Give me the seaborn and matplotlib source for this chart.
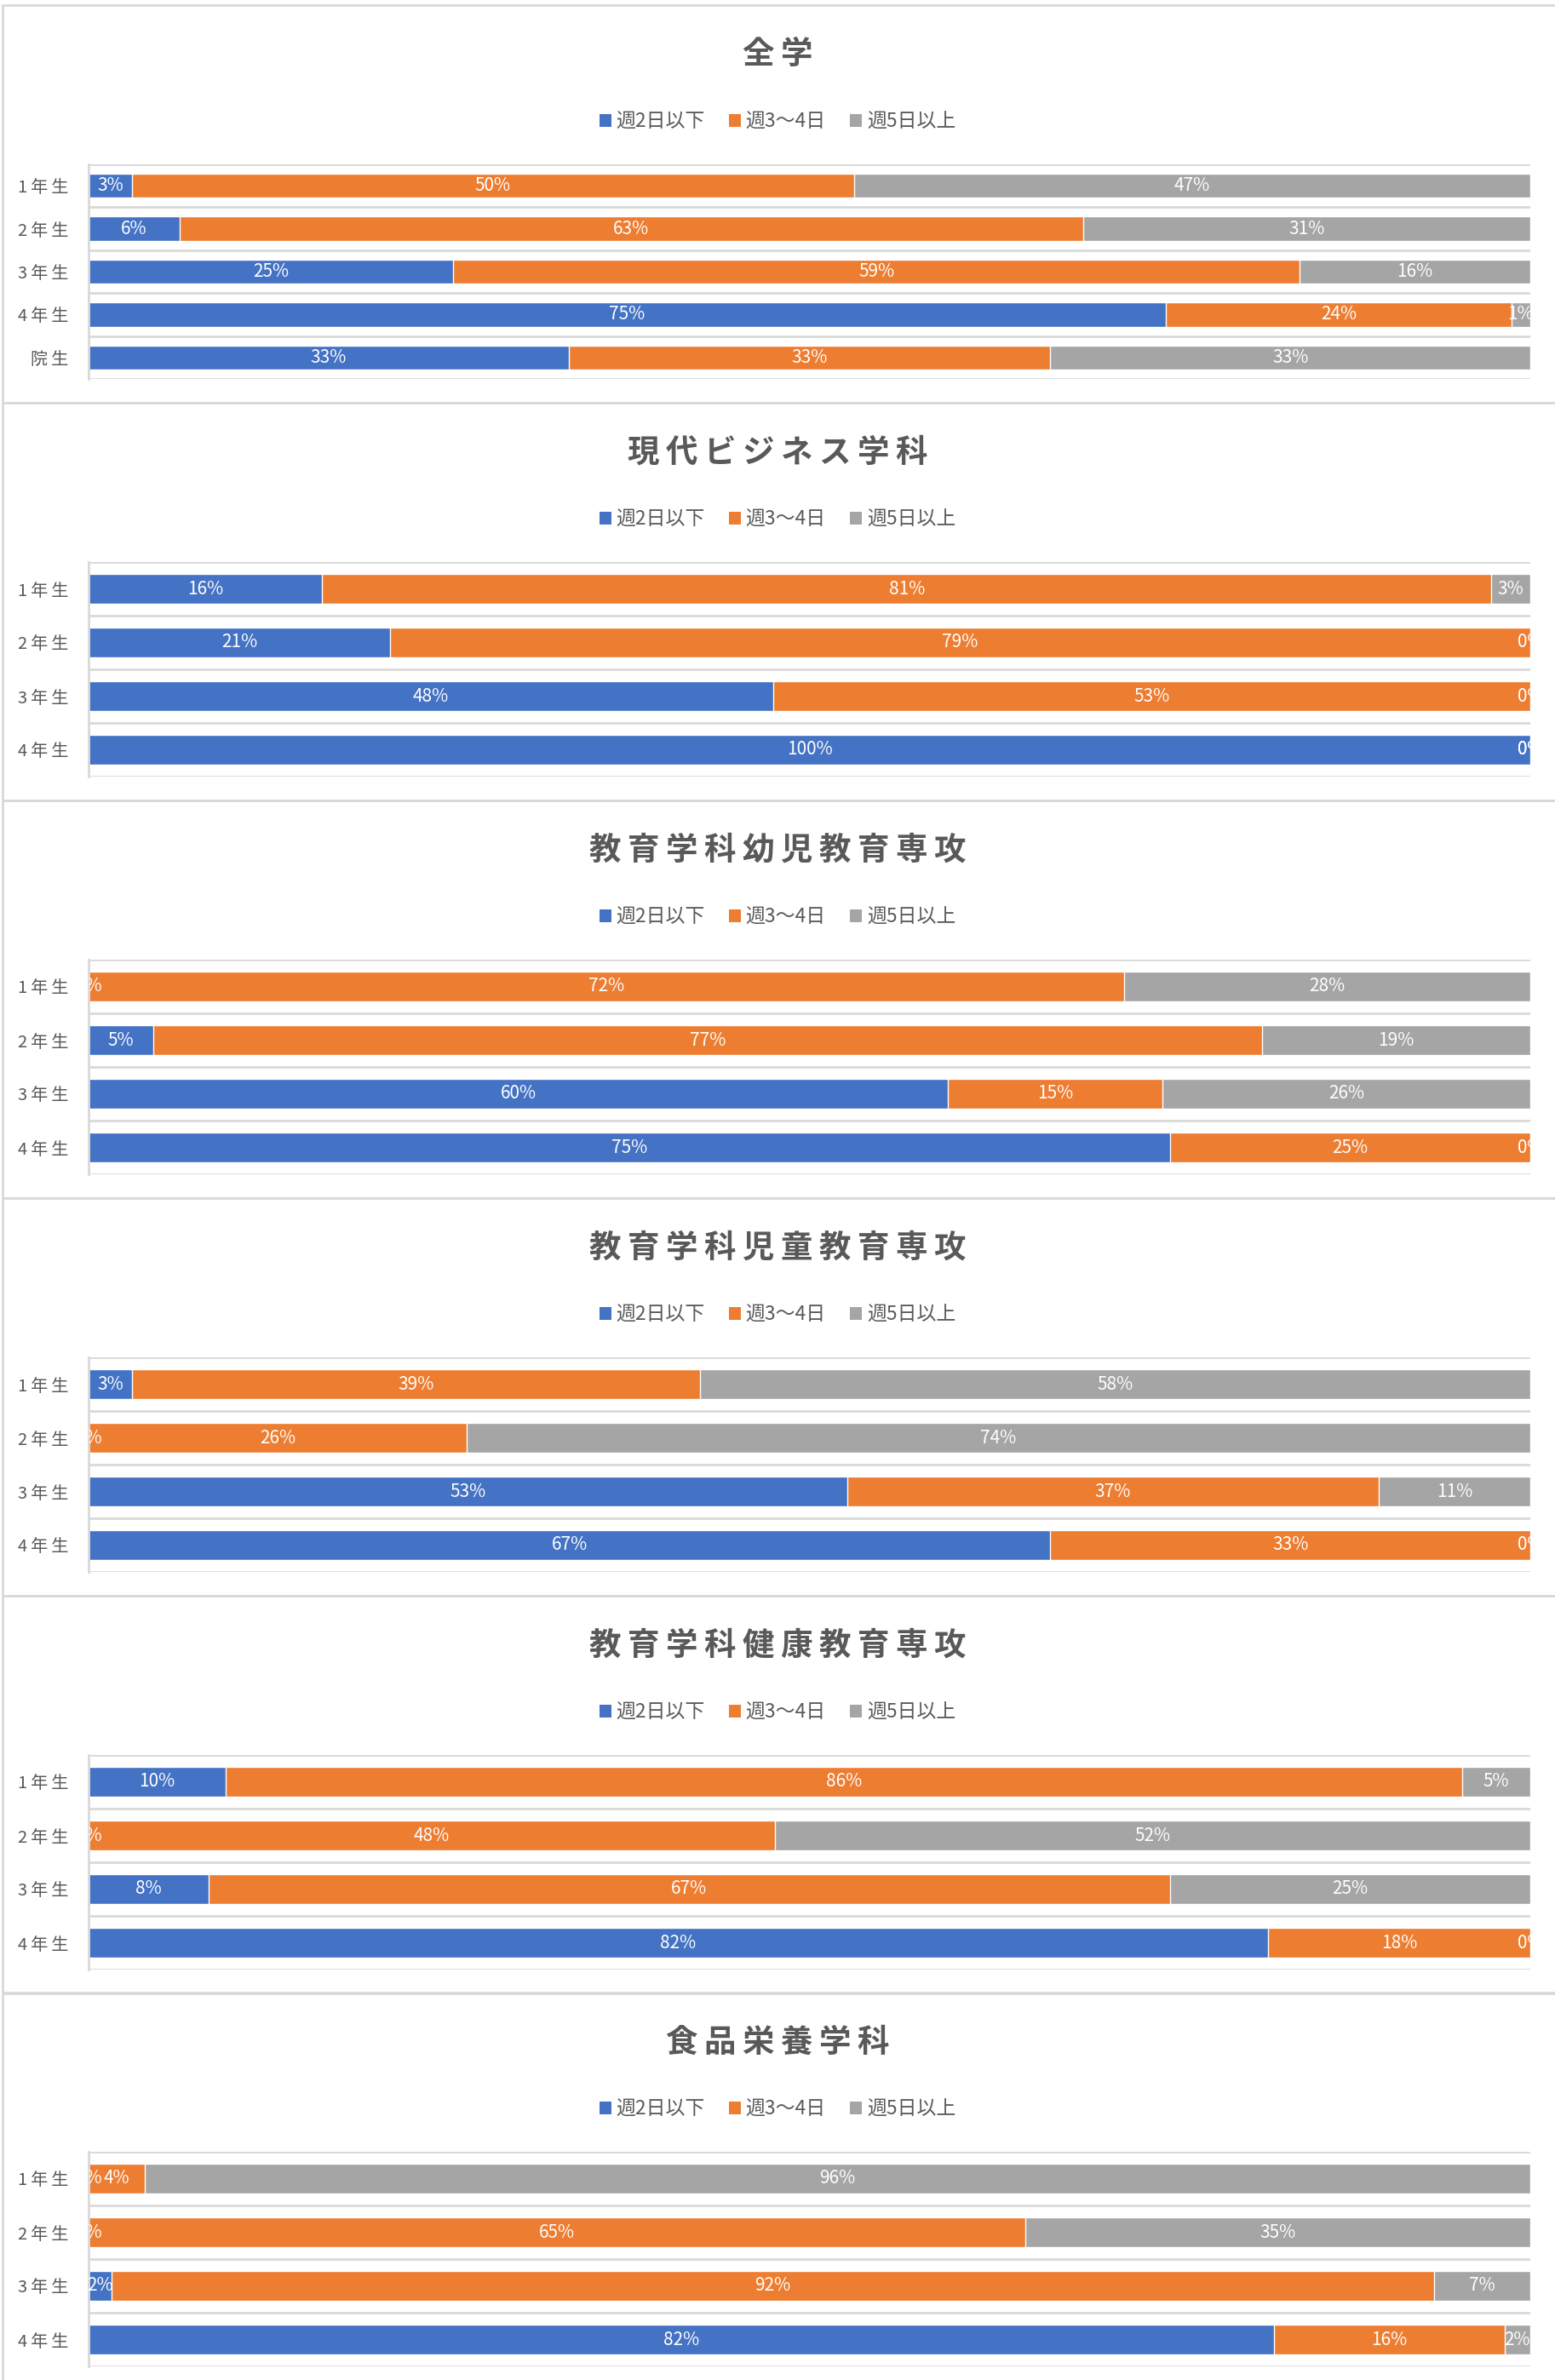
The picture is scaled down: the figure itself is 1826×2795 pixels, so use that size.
import numpy as np
import pandas as pd
import matplotlib
matplotlib.use("Agg")
import matplotlib.pyplot as plt
from matplotlib.patches import Patch, Rectangle
import seaborn as sns

# data (percent)
series = ["週2日以下", "週3～4日", "週5日以上"]
colors = ["#4472C4", "#ED7D31", "#A5A5A5"]

grades5 = ["1年生", "2年生", "3年生", "4年生", "院生"]
grades4 = ["1年生", "2年生", "3年生", "4年生"]

titles = ["全学", "現代ビジネス学科", "教育学科幼児教育専攻",
          "教育学科児童教育専攻", "教育学科健康教育専攻", "食品栄養学科"]

zengaku_le2 = [3.0, 6.3, 25.3, 74.7, 33.3]
zengaku_3to4 = [50.1, 62.7, 58.7, 24.0, 33.4]
zengaku_ge5 = [46.9, 31.0, 16.0, 1.3, 33.3]

business_le2 = [16.2, 20.9, 47.5, 100.0]
business_3to4 = [81.1, 79.1, 52.5, 0.0]
business_ge5 = [2.7, 0.0, 0.0, 0.0]

youji_le2 = [0.0, 4.5, 59.6, 75.0]
youji_3to4 = [71.8, 76.9, 14.9, 25.0]
youji_ge5 = [28.2, 18.6, 25.5, 0.0]

jidou_le2 = [3.0, 0.0, 52.6, 66.7]
jidou_3to4 = [39.4, 26.2, 36.9, 33.3]
jidou_ge5 = [57.6, 73.8, 10.5, 0.0]

kenkou_le2 = [9.5, 0.0, 8.3, 81.8]
kenkou_3to4 = [85.8, 47.6, 66.7, 18.2]
kenkou_ge5 = [4.7, 52.4, 25.0, 0.0]

shokuhin_le2 = [0.0, 0.0, 1.6, 82.2]
shokuhin_3to4 = [3.9, 65.0, 91.7, 16.0]
shokuhin_ge5 = [96.1, 35.0, 6.7, 1.8]

panels = [
    (grades5, zengaku_le2, zengaku_3to4, zengaku_ge5),
    (grades4, business_le2, business_3to4, business_ge5),
    (grades4, youji_le2, youji_3to4, youji_ge5),
    (grades4, jidou_le2, jidou_3to4, jidou_ge5),
    (grades4, kenkou_le2, kenkou_3to4, kenkou_ge5),
    (grades4, shokuhin_le2, shokuhin_3to4, shokuhin_ge5),
]

sns.set_style("white")
plt.rcParams["font.family"] = ["Noto Sans CJK JP", "DejaVu Sans"]

W, H = 1826, 2795
fig = plt.figure(figsize=(W / 100, H / 100), dpi=100)

TXT = "#595959"
GRID = "#D9D9D9"
THIN = "\u2009"
panel_tops = [6, 473, 940, 1407, 1874, 2340]
panel_h = 467


def fx(px):
    return px / W


def fy(py):
    return 1 - py / H


def pct(v):
    return f"{int(np.floor(v + 0.5))}%"


def spaced(s):
    # excel draws these labels with a bit of letter spacing
    return THIN.join(s)


for top, title, (cats, le2, mid, ge5) in zip(panel_tops, titles, panels):
    # chart frame
    fig.add_artist(Rectangle((fx(3), fy(top + panel_h)), fx(1830), panel_h / H,
                             transform=fig.transFigure, fill=False,
                             ec=GRID, lw=2))
    fig.text(0.5, fy(top + 58), spaced(title), ha="center", va="center",
             fontsize=27, fontweight="bold", color=TXT)
    handles = [Patch(facecolor=c, edgecolor="none") for c in colors]
    fig.legend(handles, series, loc="center", ncol=3, frameon=False,
               bbox_to_anchor=(0.5, fy(top + 137)), fontsize=16.5,
               labelcolor=TXT, handlelength=0.6, handleheight=0.65,
               handletextpad=0.25, columnspacing=1.25)

    ax = fig.add_axes([fx(104), fy(top + 439), fx(1797 - 104), 252 / H])
    df = pd.DataFrame({"grade": [spaced(c) for c in cats],
                       "le2": le2, "mid": mid, "ge5": ge5})
    df["c1"] = df["le2"]
    df["c2"] = df["le2"] + df["mid"]
    df["c3"] = df["c2"] + df["ge5"]

    # stacked bars by overlaying cumulative totals
    for col, c in zip(["c3", "c2", "c1"], colors[::-1]):
        sns.barplot(data=df, x=col, y="grade", color=c, saturation=1,
                    width=0.56, errorbar=None, ax=ax, orient="h")

    n = len(cats)
    for i in range(n):
        starts = [0, df["c1"][i], df["c2"][i]]
        vals = [df["le2"][i], df["mid"][i], df["ge5"][i]]
        for s, v in zip(starts, vals):
            ax.text(s + v / 2, i, pct(v), ha="center", va="center",
                    color="white", fontsize=15, clip_on=True)

    ax.set_xlim(0, 100)
    ax.set_ylim(n - 0.5, -0.5)
    ax.set_yticks(np.arange(n + 1) - 0.5, minor=True)
    ax.grid(axis="y", which="minor", color=GRID, lw=2)
    ax.grid(axis="y", which="major", visible=False)
    ax.set_axisbelow(True)
    ax.set_xticks([])
    ax.set_xlabel("")
    ax.set_ylabel("")
    ax.tick_params(axis="y", which="both", length=0, pad=17,
                   labelsize=14.5, labelcolor=TXT)
    for side in ["top", "right", "bottom"]:
        ax.spines[side].set_visible(False)
    ax.spines["left"].set_color(GRID)
    ax.spines["left"].set_linewidth(2)

fig.savefig("out.png", dpi=100, facecolor="white")
